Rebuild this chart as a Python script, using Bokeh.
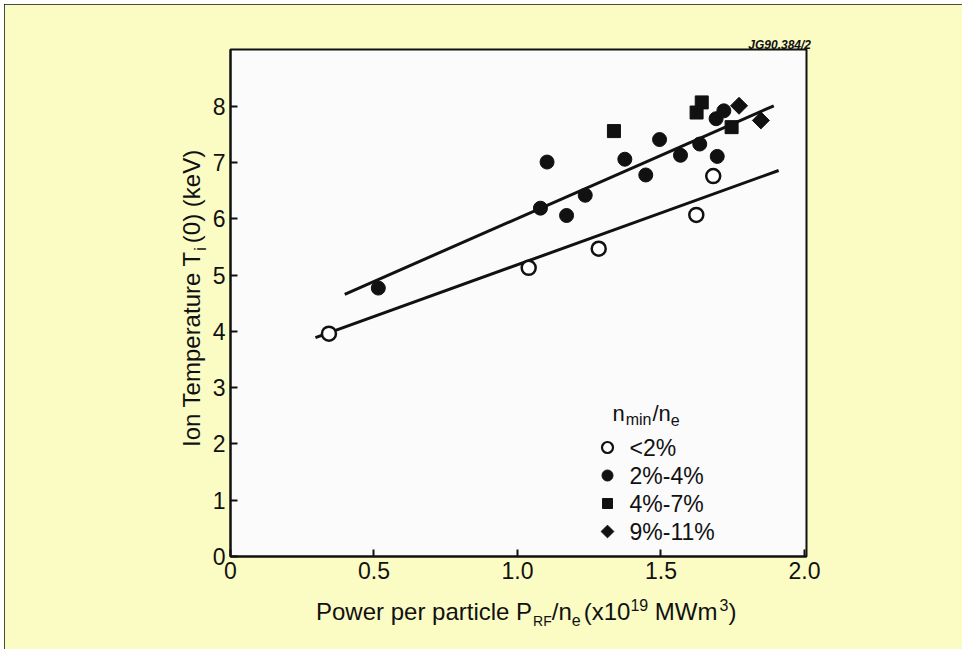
import math
from bokeh.plotting import figure
from bokeh.models import Label, Range1d, FixedTicker, Div
from bokeh.embed import file_html
from bokeh.resources import INLINE

# ---------------- data ----------------
open_x = [0.343, 1.039, 1.283, 1.623, 1.682]
open_y = [3.96, 5.13, 5.47, 6.07, 6.76]

fill_x = [0.515, 1.080, 1.103, 1.171, 1.236, 1.374, 1.447, 1.495, 1.568, 1.635, 1.696, 1.692, 1.719]
fill_y = [4.77, 6.19, 7.01, 6.06, 6.42, 7.06, 6.78, 7.41, 7.13, 7.33, 7.11, 7.78, 7.92]

square_x = [1.336, 1.624, 1.642, 1.746]
square_y = [7.56, 7.89, 8.07, 7.63]

diamond_x = [1.772, 1.848]
diamond_y = [8.01, 7.75]

fit_high_x = [0.398, 1.893]
fit_high_y = [4.66, 8.01]
fit_low_x = [0.296, 1.910]
fit_low_y = [3.89, 6.86]

x_ticks = [0, 0.5, 1.0, 1.5, 2.0]
x_tick_labels = ["0", "0.5", "1.0", "1.5", "2.0"]
y_ticks = [0, 1, 2, 3, 4, 5, 6, 7, 8]
y_tick_labels = ["0", "1", "2", "3", "4", "5", "6", "7", "8"]
legend_labels = ["<2%", "2%-4%", "4%-7%", "9%-11%"]

# ---------------- layout (page pixels) ----------------
FONT = "Liberation Sans"
INK = "#111111"
YELLOW = "#fbfcc4"
FL, FT, FR, FB = 230, 49, 806, 556      # frame edges on the page
OX, OY = 4, 4                            # canvas origin on the page
W_, H_ = 958, 645

p = figure(width=W_, height=H_, output_backend="svg", toolbar_location=None,
           x_range=Range1d(0, 2.007), y_range=Range1d(0, 9.01),
           min_border_left=FL - OX, min_border_top=FT - OY,
           min_border_right=W_ - (FR - OX), min_border_bottom=H_ - (FB - OY),
           styles={"margin": "4px", "outline": "2px solid #111111",
                   "outline-offset": "-2px"})
p.border_fill_color = YELLOW
p.background_fill_color = "#fbfbfb"
p.outline_line_color = INK
p.outline_line_width = 2
p.xgrid.visible = False
p.ygrid.visible = False
# pixel ranges for the legend key (layout, not data)
p.extra_x_ranges = {"px": Range1d(0, FR - FL)}
p.extra_y_ranges = {"px": Range1d(0, FB - FT)}

for ax, ticks, labels in ((p.xaxis[0], x_ticks, x_tick_labels), (p.yaxis[0], y_ticks, y_tick_labels)):
    ax.ticker = FixedTicker(ticks=ticks)
    ax.major_label_overrides = {t: l for t, l in zip(ticks, labels)}
    ax.axis_line_width = 2
    ax.axis_line_color = INK
    ax.major_tick_line_width = 2
    ax.major_tick_line_color = INK
    ax.major_tick_in = 7
    ax.major_tick_out = 0
    ax.minor_tick_line_color = None
    ax.major_label_text_font = FONT
    ax.major_label_text_font_size = "23px"
    ax.major_label_text_color = INK
    ax.major_label_standoff = 5

# fit lines
p.line(fit_high_x, fit_high_y, line_color=INK, line_width=3)
p.line(fit_low_x, fit_low_y, line_color=INK, line_width=3)

STYLES = [
    dict(marker="circle", size=14, fill_color="white", line_color=INK, line_width=2.5, angle=0),
    dict(marker="circle", size=14, fill_color=INK, line_color=INK, line_width=1, angle=0),
    dict(marker="square", size=13, fill_color=INK, line_color=INK, line_width=1, angle=0),
    dict(marker="square", size=12, fill_color=INK, line_color=INK, line_width=1, angle=math.pi / 4),
]
for xs, ys, st in zip([open_x, fill_x, square_x, diamond_x],
                      [open_y, fill_y, square_y, diamond_y], STYLES):
    p.scatter(xs, ys, **st)

# ---------------- legend (key drawn in frame pixels) ----------------
LEG_X, LEG_Y0, LEG_DY, LEG_TXT = 607, 447, 28, 629
LEG_SIZES = [11, 11, 10, 9]
for i, (lab, st, sz) in enumerate(zip(legend_labels, STYLES, LEG_SIZES)):
    ky = FB - (LEG_Y0 + i * LEG_DY)
    kst = dict(st)
    kst["size"] = sz
    if i == 0:
        kst["line_width"] = 2.2
    p.scatter([LEG_X - FL], [ky], x_range_name="px", y_range_name="px", **kst)
    p.add_layout(Label(x=LEG_TXT - FL, y=ky, x_units="screen", y_units="screen", text=lab,
                       text_font=FONT, text_font_size="23px", text_color=INK,
                       text_align="left", text_baseline="middle"))

CW = {"/": 278, "n": 556, "m": 833, "i": 222, "e": 556}


def tw(s, size):
    return sum(CW.get(c, 556) for c in s) * size / 1000.0


def rich(pieces, px, py):
    adv = 0.0
    for text, size, rise, gap in pieces:
        adv += gap
        p.add_layout(Label(x=px + adv - FL, y=FB - py + rise, x_units="screen", y_units="screen",
                           text=text, text_font=FONT, text_font_size=f"{size}px",
                           text_color=INK, text_align="left", text_baseline="alphabetic"))
        adv += tw(text, size)


# legend title
rich([("n", 22, 0, 0), ("min", 16, -6, 1), ("/n", 22, 0, 1), ("e", 16, -6, 0)], 612, 413)

# ---------------- texts outside the frame (HTML overlay) ----------------
BASE = f"font-family:'{FONT}';color:{INK};white-space:nowrap;position:absolute;"
SUB = "position:relative;top:6px;font-size:16px;"
SUP = "position:relative;top:-9px;font-size:16px;"
xt = (f"<div style=\"{BASE}left:311px;top:{615 - 20.3:.1f}px;font-size:24px;line-height:24px;\">"
      f"Power per particle P<span style=\"{SUB}font-size:14px;margin-left:1px\">RF</span>/n"
      f"<span style=\"{SUB}\">e</span><span style=\"margin-left:3px\">(x10</span>"
      f"<span style=\"{SUP}\">19</span> MWm<span style=\"{SUP}margin-left:2px\">3</span>)</div>")
yt = (f"<div style=\"{BASE}left:{195 - 20.3:.1f}px;top:442px;font-size:24px;line-height:24px;"
      f"transform:rotate(-90deg);transform-origin:0 0;\">"
      f"Ion Temperature T<span style=\"{SUB}margin-left:1px\">i</span>"
      f"<span style=\"margin-left:4px\">(0) (keV)</span></div>")
jg = (f"<div style=\"{BASE}left:690px;width:116px;text-align:right;top:{44 - 10.2:.1f}px;"
      f"font-size:12px;line-height:12px;font-weight:bold;font-style:italic;\">JG90.384/2</div>")

overlay = Div(text=xt + yt + jg, width=960, height=650,
              styles={"position": "absolute", "left": "0px", "top": "0px",
                      "pointer-events": "none"})

open("out.html", "w").write(file_html([p, overlay], INLINE))
